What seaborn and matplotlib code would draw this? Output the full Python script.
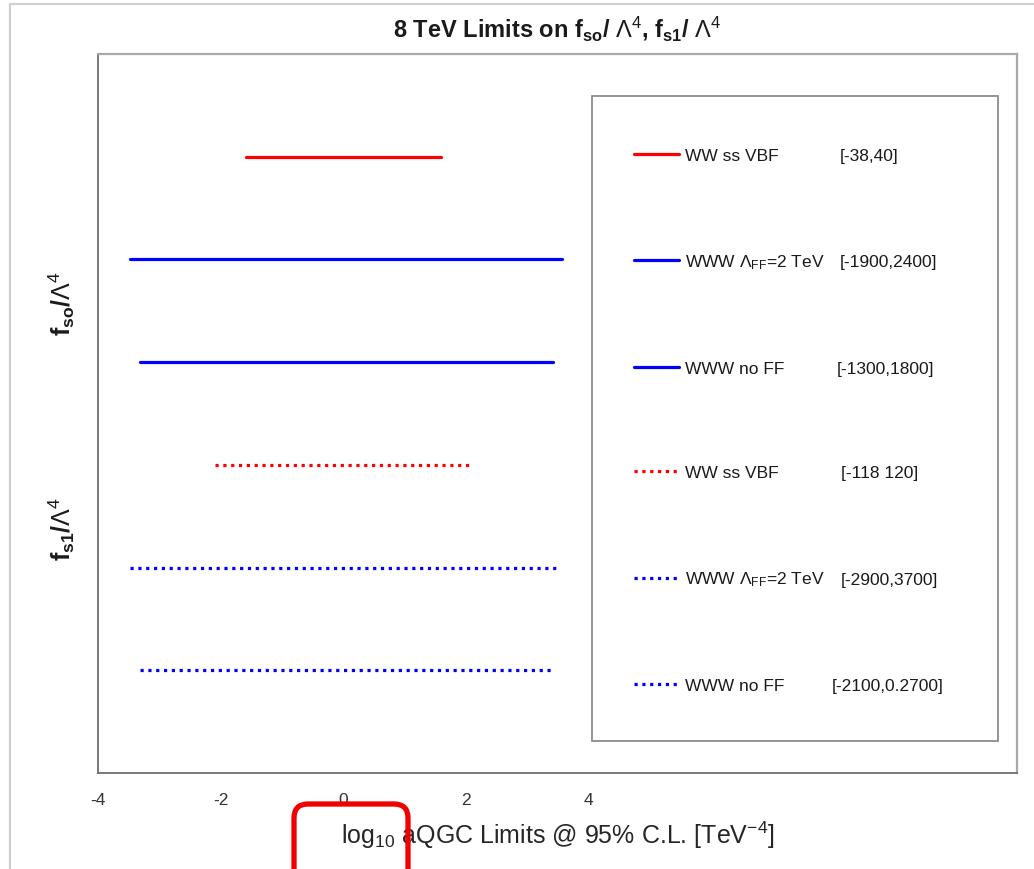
import numpy as np
import pandas as pd
import seaborn as sns
import matplotlib
matplotlib.use("Agg")
import matplotlib.pyplot as plt
from matplotlib.lines import Line2D
from matplotlib.patches import FancyBboxPatch, Rectangle

# Limits on the anomalous quartic couplings (TeV^-4), one row per analysis
names = ["WW ss VBF", r"WWW $\Lambda_{\mathrm{FF}}$=2 TeV", "WWW no FF",
         "WW ss VBF", r"WWW $\Lambda_{\mathrm{FF}}$=2 TeV", "WWW no FF"]
ranges = ["[-38,40]", "[-1900,2400]", "[-1300,1800]",
          "[-118 120]", "[-2900,3700]", "[-2100,0.2700]"]
lower = [-38, -2950, -2100, -122, -2950, -2100]
upper = [40, 3700, 2700, 118, 3350, 2650]
rows = [6, 5, 4, 3, 2, 1]
colors = ["#ff0000", "#0000ff", "#0000ff", "#ff0000", "#0000ff", "#0000ff"]
styles = ["solid", "solid", "solid", "dotted", "dotted", "dotted"]

x_ticks = [-4, -2, 0, 2, 4]

sns.set_theme(style="white")
plt.rcParams["font.family"] = ["Liberation Sans", "DejaVu Sans"]
plt.rcParams["mathtext.fontset"] = "custom"
plt.rcParams["mathtext.rm"] = "Liberation Sans"
plt.rcParams["mathtext.it"] = "Liberation Sans:italic"
plt.rcParams["mathtext.bf"] = "Liberation Sans:bold"

W, H = 1034, 870
fig = plt.figure(figsize=(W / 100, H / 100), dpi=100)
ax = fig.add_axes([98 / W, 1 - 774 / H, (1017 - 98) / W, (774 - 55) / H])


def signed_log(v):
    v = np.asarray(v, dtype=float)
    return np.sign(v) * np.log10(np.abs(v))


for name, lo, hi, r, c, ls in zip(names, lower, upper, rows, colors, styles):
    seg = pd.DataFrame({"x": signed_log([lo, hi]), "y": [r, r]})
    line_ls = "-" if ls == "solid" else (0, (1.0, 1.45))
    sns.lineplot(data=seg, x="x", y="y", ax=ax, color=c, lw=2.3,
                 linestyle=line_ls, label=name, sort=False)

ax.set_xlim(-4, 11)
ax.set_ylim(0, 7)
ax.set_xticks(x_ticks)
ax.set_xticklabels([str(t) for t in x_ticks])
ax.set_yticks([])
ax.tick_params(axis="x", direction="in", length=7, width=1, color="#7a7a7a",
               pad=14, labelsize=12.5, labelcolor="#333333")
ax.set_xlabel(r"log$_{10}$ aQGC Limits @ 95% C.L. [TeV$^{-4}$]",
              fontsize=18, color="#262626", labelpad=8)
ax.set_ylabel("")

for side in ["left", "bottom"]:
    ax.spines[side].set_color("#6e6e6e")
    ax.spines[side].set_linewidth(1.3)
for side in ["top", "right"]:
    ax.spines[side].set_color("#a8a8a8")
    ax.spines[side].set_linewidth(1.6)

ax.set_title(r"8 TeV Limits on f$_{\mathbf{so}}$/ $\Lambda^{4}$, f$_{\mathbf{s1}}$/ $\Lambda^{4}$",
             fontsize=17, fontweight="bold", color="#1a1a1a", pad=13)

for yc, lab in [(4.58, r"f$_{\mathbf{so}}$/$\Lambda^{4}$"), (2.38, r"f$_{\mathbf{s1}}$/$\Lambda^{4}$")]:
    ax.text(-0.039, yc, lab, transform=ax.get_yaxis_transform(),
            rotation=90, ha="center", va="center", fontsize=18, fontweight="bold",
            color="#1a1a1a")

# legend box
ax.add_patch(Rectangle(((592 - 98) / 919, (774 - 742) / 719), (998 - 592) / 919,
                       (742 - 97) / 719, transform=ax.transAxes, fill=False,
                       edgecolor="#8c8c8c", lw=1.3, clip_on=False, zorder=5))

leg = ax.legend(loc="upper left",
                bbox_to_anchor=((634 - 98) / 919, (774 - 149) / 719),
                fontsize=12.5, handlelength=2.6, handletextpad=0.35,
                labelspacing=5.15, borderpad=0.0, borderaxespad=0.0,
                frameon=False)
for t in leg.get_texts():
    t.set_color("#1a1a1a")

# bracketed range text, aligned to the legend rows
fig.canvas.draw()
inv = fig.transFigure.inverted()
range_x = [840, 840, 837, 841, 841, 832]
for t, txt, xp in zip(leg.get_texts(), ranges, range_x):
    bb = t.get_window_extent()
    yc = inv.transform((0, (bb.y0 + bb.y1) / 2))[1]
    fig.text(xp / W, yc, txt, ha="left", va="center", fontsize=12.5, color="#1a1a1a")

# outer frame lines
fig.add_artist(Line2D([10 / W, 10 / W], [0, 1 - 5 / H], transform=fig.transFigure,
                      color="#cfcfcf", lw=1.5))
fig.add_artist(Line2D([10 / W, 1], [1 - 5 / H, 1 - 5 / H], transform=fig.transFigure,
                      color="#cfcfcf", lw=1.5))

# highlight around the log10 prefix
box = FancyBboxPatch((294, -20), 114, 85, boxstyle="round,pad=0,rounding_size=14",
                     transform=None, fill=False, edgecolor="#f00000", lw=3.8)
fig.add_artist(box)

fig.savefig("out.png", dpi=100)
